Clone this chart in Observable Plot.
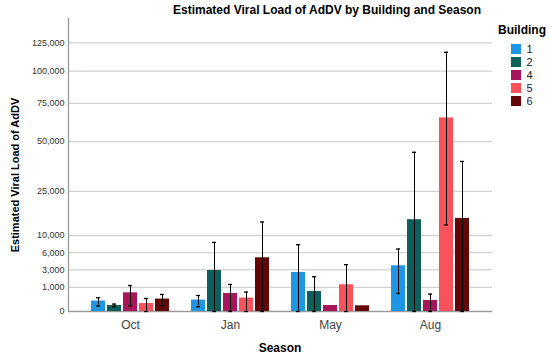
<!DOCTYPE html>
<html><head><meta charset="utf-8">
<script src="https://cdn.jsdelivr.net/npm/d3@7"></script>
<script src="https://cdn.jsdelivr.net/npm/@observablehq/plot@0.6"></script>
<style>
body{margin:0;background:#fff;}
#wrap{position:relative;width:550px;height:359px;font-family:"Liberation Sans",Arial,sans-serif;overflow:hidden;}
#wrap > svg{position:absolute;left:0;top:0;}
.t{position:absolute;font-weight:bold;color:#000;white-space:nowrap;line-height:1;}
#legend{position:absolute;left:511px;top:43px;}
</style></head><body>
<div id="wrap"></div>
<script>
// Categories
const seasons = ["Oct", "Jan", "May", "Aug"];
const buildings = ["1", "2", "4", "5", "6"];
const colors = ["#1e96e6", "#0c5f5a", "#a8155a", "#f9525a", "#640508"];
const yTicks = [0, 1000, 3000, 6000, 10000, 25000, 50000, 75000, 100000, 125000];

// Estimated means per building, in season order (Oct, Jan, May, Aug)
const mean1 = [190, 225, 2640, 3620];
const mean2 = [62, 2920, 695, 14600];
const mean4 = [605, 560, 62, 210];
const mean5 = [110, 312, 1240, 64900];
const mean6 = [267, 5000, 56, 15000];

// Error bar lower bounds
const low1 = [51, 38, 0, 560];
const low2 = [38, 0, 0, 0];
const low4 = [56, 0, null, 0];
const low5 = [0, 0, 0, 13000];
const low6 = [56, 0, null, 0];

// Error bar upper bounds
const high1 = [326, 444, 7720, 6760];
const high2 = [95, 8260, 2090, 43900];
const high4 = [1170, 1265, null, 525];
const high5 = [293, 653, 3790, 116400];
const high6 = [502, 13870, null, 39000];

const means = [mean1, mean2, mean4, mean5, mean6];
const lows = [low1, low2, low4, low5, low6];
const highs = [high1, high2, high4, high5, high6];

const rows = [];
buildings.forEach((b, j) => seasons.forEach((s, i) => {
  rows.push({season: s, building: b, value: means[j][i], lo: lows[j][i], hi: highs[j][i]});
}));
const errRows = rows.filter(d => d.hi != null);

const W = 550, H = 359, ML = 68, MR = 58, MT = 18, MB = 48;
const yScale = {type: "sqrt", domain: [0, 148700], ticks: yTicks, tickFormat: d3.format(","), label: null, tickSize: 0, tickPadding: 4};
const baseStyle = {fontFamily: "'Liberation Sans', Arial, sans-serif", fontSize: "9px", color: "#333", background: "transparent"};

// Background: gridlines, axes lines, y tick labels
const back = Plot.plot({
  width: W, height: H, marginLeft: ML, marginRight: MR, marginTop: MT, marginBottom: MB,
  style: baseStyle,
  x: {domain: [0, 1], axis: null},
  y: yScale,
  marks: [
    Plot.ruleY(yTicks.slice(1), {stroke: "#d2d2d2", strokeWidth: 1.3}),
    Plot.ruleY([0], {stroke: "#9a9a9a", strokeWidth: 1.3}),
    Plot.ruleX([0], {stroke: "#9a9a9a", strokeWidth: 1.3})
  ]
});

// Foreground: faceted bars and error bars
const front = Plot.plot({
  width: W, height: H, marginLeft: ML, marginRight: MR, marginTop: MT, marginBottom: MB,
  style: baseStyle,
  fx: {domain: seasons, paddingInner: 0.2, paddingOuter: 0.22, label: null, tickSize: 0, tickPadding: 9},
  x: {domain: buildings, paddingInner: 0.12, paddingOuter: 0.02, axis: null},
  y: {...yScale, axis: null},
  color: {domain: buildings, range: colors},
  marks: [
    Plot.barY(rows, {fx: "season", x: "building", y: "value", fill: "building"}),
    Plot.ruleX(errRows, {fx: "season", x: "building", y1: "lo", y2: "hi", stroke: "#000", strokeWidth: 1}),
    Plot.tickY(errRows, {fx: "season", x: "building", y: "hi", stroke: "#000", strokeWidth: 1.3, insetLeft: 5, insetRight: 5}),
    Plot.tickY(errRows, {fx: "season", x: "building", y: "lo", stroke: "#000", strokeWidth: 1.3, insetLeft: 5, insetRight: 5})
  ]
});

const wrap = document.getElementById("wrap");
wrap.appendChild(back);
wrap.appendChild(front);
d3.select(front).selectAll('[aria-label="fx-axis tick label"]').attr("font-size", 12).attr("fill", "#444");

function addText(txt, css) {
  const d = document.createElement("div");
  d.className = "t";
  d.textContent = txt;
  d.style.cssText = css;
  wrap.appendChild(d);
}
addText("Estimated Viral Load of AdDV by Building and Season", "left:327px;top:4px;font-size:12px;transform:translateX(-50%);");
addText("Estimated Viral Load of AdDV", "left:15px;top:175px;font-size:11px;transform:translate(-50%,-50%) rotate(-90deg);");
addText("Season", "left:280px;top:342px;font-size:12px;transform:translateX(-50%);");
addText("Building", "left:498px;top:24px;font-size:12px;");

const leg = Plot.legend({color: {domain: buildings, range: colors}, columns: 1, swatchSize: 10,
  style: {fontFamily: "'Liberation Sans', Arial, sans-serif", fontSize: "11px", color: "#222"}});
const lw = document.createElement("div");
lw.id = "legend";
lw.appendChild(leg);
wrap.appendChild(lw);
</script>
</body></html>
